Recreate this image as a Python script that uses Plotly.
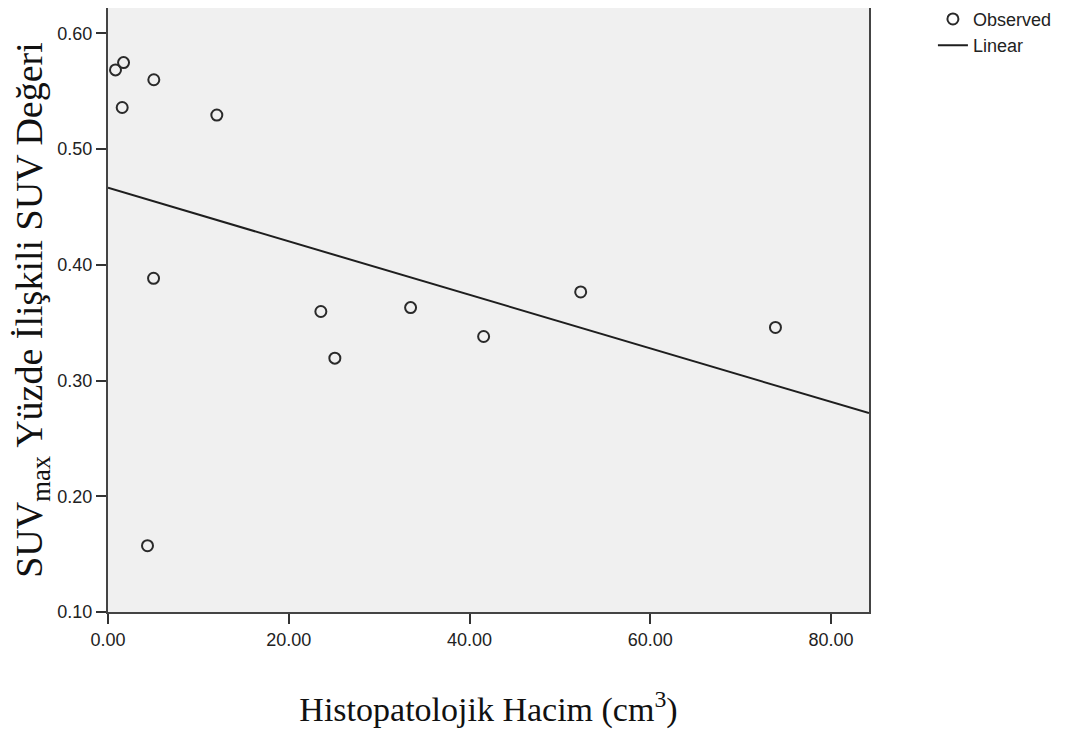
import numpy as np
import plotly.graph_objects as go

# Data
volume_cm3 = [0.83, 1.72, 1.57, 5.07, 12.04, 5.04, 4.37, 23.55, 25.10, 33.48, 41.56, 52.30, 73.85]
suv_percent = [0.5685, 0.5748, 0.5360, 0.5600, 0.5295, 0.3884, 0.1573, 0.3597, 0.3194, 0.3631, 0.3381, 0.3766, 0.3459]
x_ticks = [0, 20, 40, 60, 80]
y_ticks = [0.10, 0.20, 0.30, 0.40, 0.50, 0.60]

X_RANGE = [0, 84.2]
Y_RANGE = [0.10, 0.622]

slope, intercept = np.polyfit(volume_cm3, suv_percent, 1)
fit_x = np.array(X_RANGE)
fit_y = intercept + slope * fit_x

fig = go.Figure()
fig.add_trace(go.Scatter(
    x=volume_cm3, y=suv_percent, mode="markers", name="Observed",
    marker=dict(symbol="circle-open", size=11, color="#2a2a2a", line=dict(width=2, color="#2a2a2a")),
    cliponaxis=False,
))
fig.add_trace(go.Scatter(
    x=fit_x, y=fit_y, mode="lines", name="Linear",
    line=dict(color="#1e1e1e", width=2),
))

axis_font = dict(family="Liberation Sans, Arial, sans-serif", size=18, color="#222222")
x_title_font = dict(family="Liberation Serif, Times New Roman, serif", size=34, color="#111111")
y_title_font = dict(family="Liberation Serif, Times New Roman, serif", size=38, color="#111111")

fig.update_layout(
    width=1066, height=734,
    margin=dict(l=100, r=205, t=0, b=130, autoexpand=False),
    paper_bgcolor="white",
    plot_bgcolor="#f0f0f0",
    showlegend=True,
    legend=dict(
        x=1.084, y=1.012, xanchor="left", yanchor="top",
        font=dict(family="Liberation Sans, Arial, sans-serif", size=18, color="#222222"),
        itemwidth=30, tracegroupgap=0, bgcolor="rgba(0,0,0,0)",
    ),
    xaxis=dict(
        range=X_RANGE, tickvals=x_ticks, tickformat=".2f",
        ticks="outside", ticklen=10, tickwidth=2, tickcolor="#333333",
        showgrid=False, zeroline=False,
        showline=True, linecolor="#444444", linewidth=2, mirror=True,
        tickfont=axis_font,
        title=dict(text="Histopatolojik Hacim (cm<sup>3</sup>)", font=x_title_font, standoff=49),
    ),
    yaxis=dict(
        range=Y_RANGE, tickvals=y_ticks, tickformat=".2f",
        ticks="outside", ticklen=10, tickwidth=2, tickcolor="#333333",
        showgrid=False, zeroline=False,
        showline=True, linecolor="#444444", linewidth=2, mirror=True,
        tickfont=axis_font,
        title=dict(text="SUV<sub>max</sub> Yüzde İlişkili SUV Değeri", font=y_title_font, standoff=7),
    ),
)

fig.write_html("out.html")
